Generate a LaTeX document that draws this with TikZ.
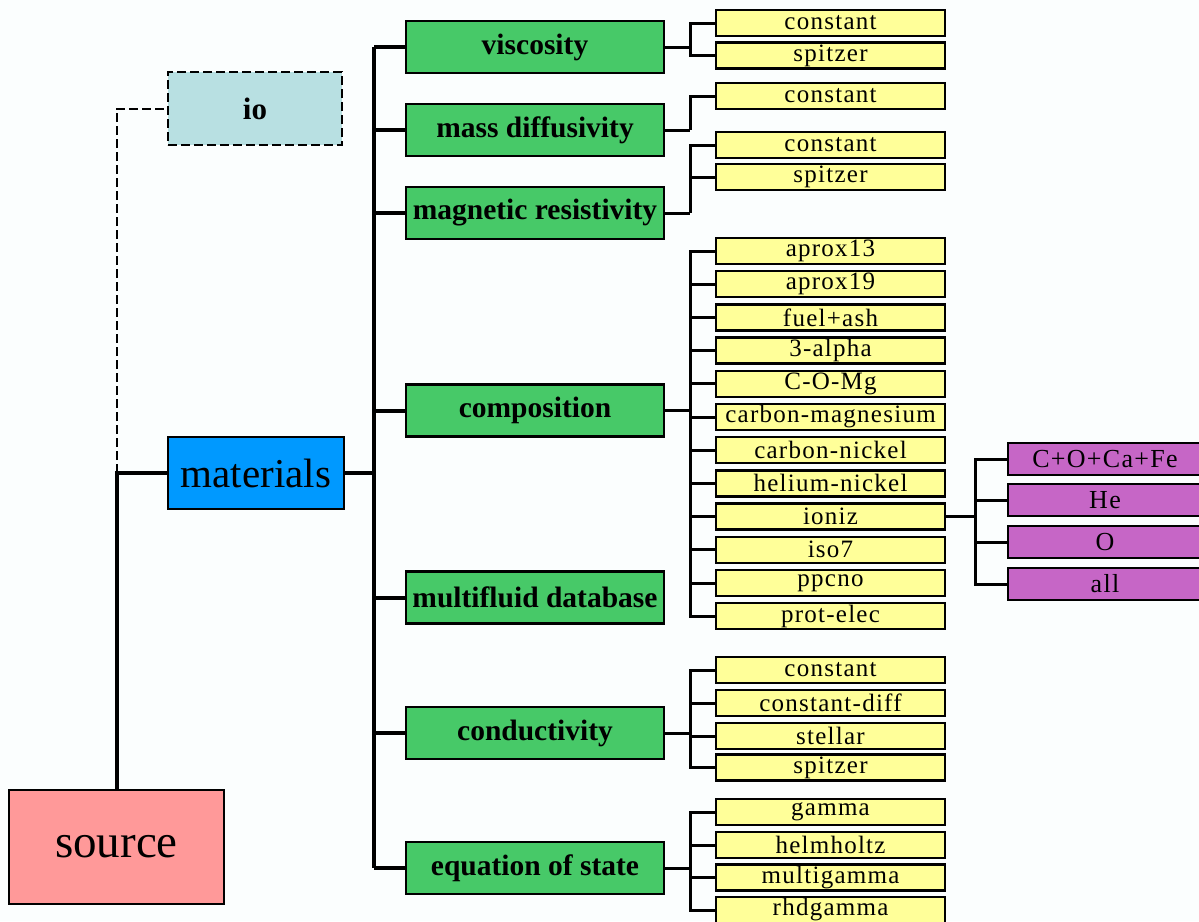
\documentclass[tikz,border=0pt]{standalone}
\usepackage{fontspec}
\setmainfont{Liberation Serif}
\newfontfamily\yfont[LetterSpace=5]{Liberation Serif}
\definecolor{bgc}{RGB}{251,254,254}
\definecolor{grn}{RGB}{71,201,104}
\definecolor{yel}{RGB}{255,255,153}
\definecolor{pur}{RGB}{198,102,198}
\definecolor{blu}{RGB}{0,153,255}
\definecolor{lbl}{RGB}{184,224,226}
\definecolor{pnk}{RGB}{255,153,153}
\begin{document}
\begin{tikzpicture}[x=1pt,y=-1pt,
  box/.style={rectangle, draw=black, inner sep=0pt, anchor=center},
  greenbox/.style={box, fill=grn, line width=2.5pt, minimum width=258pt, minimum height=52pt, font=\fontsize{29.5}{34}\selectfont\bfseries},
  yelbox/.style={box, fill=yel, line width=2.5pt, minimum width=229pt, minimum height=26pt, font=\yfont\fontsize{25}{27}\selectfont},
  purbox/.style={box, fill=pur, line width=2.5pt, minimum width=194pt, minimum height=32pt, font=\yfont\fontsize{26}{29}\selectfont},
  mainconn/.style={line width=4pt},
  subconn/.style={line width=3pt},
  ioconn/.style={line width=2pt, dash pattern=on 9pt off 4pt}
]
\useasboundingbox (0,0) rectangle (1199,921);
\clip (0,0) rectangle (1199,921);
\fill[bgc] (0,0) rectangle (1199,921);

% left nodes
\node[box, fill=pnk, line width=1.5pt, minimum width=215pt, minimum height=114pt, font=\fontsize{47}{50}\selectfont] (source) at (116.5,847) {source};
\node[box, fill=lbl, line width=2pt, dash pattern=on 9pt off 4pt, minimum width=174pt, minimum height=73pt, font=\fontsize{31}{36}\selectfont\bfseries] (io) at (255,108.5) {io};
\node[box, fill=blu, line width=2pt, minimum width=176pt, minimum height=72pt, font=\fontsize{41}{44}\selectfont] (materials) at (256,473) {materials};

% green nodes
\node[greenbox] (visc) at (535,47) {viscosity};
\node[greenbox] (mass) at (535,130) {mass diffusivity};
\node[greenbox] (magn) at (535,213) {magnetic resistivity};
\node[greenbox] (comp) at (535,410.5) {composition};
\node[greenbox] (multi) at (535,597.5) {multifluid database};
\node[greenbox] (cond) at (535,733) {conductivity};
\node[greenbox] (eos) at (535,868) {equation of state};

% yellow nodes
\node[yelbox] (v1) at (830.5,23) {constant};
\node[yelbox] (v2) at (830.5,55.5) {spitzer};
\node[yelbox] (m1) at (830.5,96) {constant};
\node[yelbox] (r1) at (830.5,145) {constant};
\node[yelbox] (r2) at (830.5,177) {spitzer};

\node[yelbox] (c1) at (830.5,251) {aprox13};
\node[yelbox] (c2) at (830.5,284.2) {aprox19};
\node[yelbox] (c3) at (830.5,317.4) {fuel+ash};
\node[yelbox] (c4) at (830.5,350.6) {3-alpha};
\node[yelbox] (c5) at (830.5,383.8) {C-O-Mg};
\node[yelbox] (c6) at (830.5,417) {carbon-magnesium};
\node[yelbox] (c7) at (830.5,450.2) {carbon-nickel};
\node[yelbox] (c8) at (830.5,483.4) {helium-nickel};
\node[yelbox] (c9) at (830.5,516.6) {ioniz};
\node[yelbox] (c10) at (830.5,549.8) {iso7};
\node[yelbox] (c11) at (830.5,583) {ppcno};
\node[yelbox] (c12) at (830.5,616.2) {prot-elec};

\node[yelbox] (k1) at (830.5,670) {constant};
\node[yelbox] (k2) at (830.5,703) {constant-diff};
\node[yelbox] (k3) at (830.5,736) {stellar};
\node[yelbox] (k4) at (830.5,767.5) {spitzer};

\node[yelbox] (e1) at (830.5,812) {gamma};
\node[yelbox] (e2) at (830.5,845) {helmholtz};
\node[yelbox] (e3) at (830.5,877.5) {multigamma};
\node[yelbox] (e4) at (830.5,910) {rhdgamma};

% purple nodes
\node[purbox] (p1) at (1105,459) {C+O+Ca+Fe};
\node[purbox] (p2) at (1105,500) {He};
\node[purbox] (p3) at (1105,542) {O};
\node[purbox] (p4) at (1105,584) {all};

% bus coordinates
\coordinate (trunk) at (374,0);
\coordinate (bus) at (690,0);
\coordinate (pbus) at (975,0);

% source / io / materials
\draw[mainconn] (source.north) |- (materials.west);
\draw[ioconn] (source.north |- materials.west) |- (io.west);

% materials to green
\draw[mainconn] (materials.east) -- (materials.east -| trunk);
\draw[mainconn] (visc.west -| trunk) -- (eos.west -| trunk);
\foreach \g in {visc,mass,magn,comp,multi,cond,eos}
  \draw[mainconn] (\g.west -| trunk) -- (\g.west);

% green to yellow
\foreach \p/\kids in {visc/{v1,v2}, mass/{m1}, magn/{r1,r2},
    comp/{c1,c2,c3,c4,c5,c6,c7,c8,c9,c10,c11,c12},
    cond/{k1,k2,k3,k4}, eos/{e1,e2,e3,e4}}{
  \draw[subconn] (\p.east) -- (\p.east -| bus);
  \foreach \k in \kids
    \draw[subconn] (\p.east -| bus) |- (\k.west);
}

% ioniz to purple
\draw[subconn] (c9.east) -- (c9.east -| pbus);
\foreach \k in {p1,p2,p3,p4}
  \draw[subconn] (c9.east -| pbus) |- (\k.west);
\end{tikzpicture}
\end{document}
